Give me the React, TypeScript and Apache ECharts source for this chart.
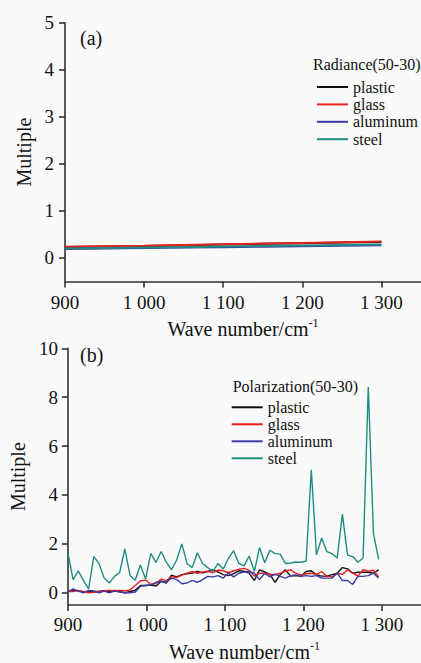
import React, { useEffect, useRef } from "react";
import * as echarts from "echarts";

// ---- data ----
const seriesNames = ["plastic", "glass", "aluminum", "steel"];
const seriesColors = ["#111111", "#e8201e", "#3a3aa8", "#1f8c84"];

// (a) Radiance(50-30)
const radianceX = [900, 950, 1000, 1050, 1100, 1150, 1200, 1250, 1300];
const radPlastic = [0.235, 0.245, 0.255, 0.27, 0.285, 0.3, 0.315, 0.33, 0.34];
const radGlass = [0.24, 0.25, 0.26, 0.275, 0.29, 0.305, 0.32, 0.335, 0.35];
const radAluminum = [0.19, 0.2, 0.21, 0.22, 0.23, 0.24, 0.25, 0.26, 0.27];
const radSteel = [0.2, 0.21, 0.22, 0.23, 0.245, 0.255, 0.265, 0.275, 0.285];

// (b) Polarization(50-30)
const waveNumbers = [
  900, 906.6, 913.2, 919.8, 926.4, 933, 939.6, 946.2, 952.8, 959.4,
  966, 972.6, 979.2, 985.8, 992.4, 999, 1005.6, 1012.2, 1018.8, 1025.4,
  1032, 1038.6, 1045.2, 1051.8, 1058.4, 1065, 1071.6, 1078.2, 1084.8, 1091.4,
  1098, 1104.6, 1111.2, 1117.8, 1124.4, 1131, 1137.6, 1144.2, 1150.8, 1157.4,
  1164, 1170.6, 1177.2, 1183.8, 1190.4, 1197, 1203.6, 1210.2, 1216.8, 1223.4,
  1230, 1236.6, 1243.2, 1249.8, 1256.4, 1263, 1269.6, 1276.2, 1282.8, 1289.4,
  1296,
];
const polPlastic = [
  0.05, 0.1, 0.08, 0.03, 0.05, 0.05, 0.06, 0.08, 0.05, 0.1,
  0.05, 0.0, 0.05, 0.1, 0.3, 0.3, 0.32, 0.27, 0.47, 0.4,
  0.72, 0.65, 0.74, 0.78, 0.81, 0.87, 0.82, 0.87, 0.94, 0.85,
  0.74, 0.7, 0.78, 0.9, 0.88, 0.8, 0.5, 0.94, 0.85, 0.75,
  0.43, 0.74, 0.94, 0.68, 0.7, 0.68, 0.87, 0.9, 0.74, 0.68,
  0.68, 0.74, 0.8, 1.03, 0.98, 0.8, 0.84, 0.84, 0.84, 0.8,
  0.94,
];
const polGlass = [
  0.05, 0.05, 0.1, 0.05, 0.0, 0.02, 0.05, 0.08, 0.1, 0.08,
  0.1, 0.08, 0.12, 0.3, 0.48, 0.52, 0.35, 0.37, 0.56, 0.5,
  0.65, 0.62, 0.72, 0.8, 0.86, 0.8, 0.85, 0.88, 0.82, 0.93,
  0.9, 0.82, 0.9, 0.96, 1.0, 0.92, 0.68, 0.8, 0.8, 0.75,
  0.75, 0.8, 0.88, 0.94, 0.8, 0.72, 0.78, 0.8, 0.75, 0.87,
  0.68, 0.65, 0.8, 0.75, 0.94, 0.8, 0.68, 0.94, 0.88, 0.92,
  0.65,
];
const polAluminum = [
  0.03, 0.16, 0.07, 0.0, 0.1, 0.07, 0.0, 0.07, 0.0, 0.07,
  0.03, 0.0, 0.0, 0.03, 0.27, 0.3, 0.32, 0.43, 0.47, 0.43,
  0.6, 0.54, 0.37, 0.4, 0.51, 0.43, 0.54, 0.67, 0.65, 0.7,
  0.6, 0.81, 0.65, 0.8, 0.85, 0.87, 0.8, 0.54, 0.8, 0.65,
  0.75, 0.67, 0.6, 0.7, 0.73, 0.67, 0.7, 0.67, 0.7, 0.6,
  0.6, 0.6, 0.8, 0.5, 0.5, 0.34, 0.67, 0.67, 0.7, 0.8,
  0.6,
];
const polSteel = [
  1.65, 0.54, 0.9, 0.5, 0.16, 1.48, 1.2, 0.6, 0.4, 0.67,
  0.83, 1.8, 0.71, 0.51, 1.14, 0.56, 1.61, 1.24, 1.69, 1.25,
  0.94, 1.34, 2.0, 1.2, 1.03, 1.64, 1.2, 1.03, 0.88, 1.2,
  0.97, 1.41, 1.72, 1.2, 1.1, 1.5, 0.87, 1.85, 1.23, 1.74,
  1.6, 1.58, 1.2, 1.22, 1.26, 1.25, 1.3, 5.03, 1.55, 2.24,
  1.68, 1.6, 1.42, 3.22, 1.54, 1.48, 1.25, 1.42, 8.42, 2.42,
  1.37,
];

const xTicks = [900, 1000, 1100, 1200, 1300];
const yTicksA = [0, 1, 2, 3, 4, 5];
const yTicksB = [0, 2, 4, 6, 8, 10];

const FONT = "'Liberation Serif', 'Times New Roman', serif";

function fmtWave(v: number) {
  const s = String(Math.round(v));
  return s.length > 3 ? s.slice(0, s.length - 3) + " " + s.slice(-3) : s;
}

export default function App() {
  const ref = useRef<HTMLDivElement>(null);
  useEffect(() => {
    if (!ref.current) return;
    const chart = echarts.init(ref.current, null, { renderer: "svg" });

    const axisLine = { show: true, onZero: false, lineStyle: { color: "#333", width: 1.6 } };
    const mkX = (gridIndex: number, margin: number) => ({
      type: "value",
      gridIndex,
      min: 900,
      max: 1350,
      splitLine: { show: false },
      axisLine,
      axisTick: { show: true, inside: false, length: 6, customValues: xTicks, lineStyle: { color: "#333", width: 1.6 } },
      axisLabel: {
        customValues: xTicks,
        formatter: (v: number) => fmtWave(v),
        fontFamily: FONT,
        fontSize: 19,
        color: "#111",
        margin,
      },
      name: "Wave number/cm{sup|-1}",
      nameLocation: "middle",
      nameGap: 35,
      nameTextStyle: {
        fontFamily: FONT,
        fontSize: 20,
        color: "#111",
        rich: { sup: { fontFamily: FONT, fontSize: 12, color: "#111", padding: [0, 0, 12, 0] } },
      },
    });
    const mkY = (gridIndex: number, max: number, ticks: number[], margin: number) => ({
      type: "value",
      gridIndex,
      min: -0.5,
      max,
      splitLine: { show: false },
      axisLine,
      axisTick: { show: true, inside: false, length: 6, customValues: ticks, lineStyle: { color: "#333", width: 1.6 } },
      axisLabel: { customValues: ticks, fontFamily: FONT, fontSize: 19, color: "#111", margin },
      name: "Multiple",
      nameLocation: "middle",
      nameGap: 30,
      nameTextStyle: { fontFamily: FONT, fontSize: 20, color: "#111" },
    });

    const radData = [radPlastic, radGlass, radAluminum, radSteel];
    const polData = [polPlastic, polGlass, polAluminum, polSteel];

    const series: any[] = [];
    seriesNames.forEach((name, i) => {
      series.push({
        type: "line",
        name,
        xAxisIndex: 0,
        yAxisIndex: 0,
        symbol: "none",
        data: radianceX.map((x, j) => [x, radData[i][j]]),
        lineStyle: { color: seriesColors[i], width: 2 },
        itemStyle: { color: seriesColors[i] },
      });
    });
    seriesNames.forEach((name, i) => {
      series.push({
        type: "line",
        name,
        xAxisIndex: 1,
        yAxisIndex: 1,
        symbol: "none",
        data: waveNumbers.map((x, j) => [x, polData[i][j]]),
        lineStyle: { color: seriesColors[i], width: 1.4 },
        itemStyle: { color: seriesColors[i] },
      });
    });

    const legendBase = {
      orient: "vertical",
      data: seriesNames,
      icon: "rect",
      itemWidth: 31,
      itemHeight: 2,
      selectedMode: false,
      textStyle: { fontFamily: FONT, fontSize: 16, color: "#111", lineHeight: 17 },
    };

    chart.setOption({
      animation: false,
      backgroundColor: "#fafafa",
      grid: [
        { left: 65, top: 22.7, width: 357, height: 258.8 },
        { left: 64.3, top: 348.3, width: 362.7, height: 261 },
      ],
      xAxis: [mkX(0, 11), mkX(1, 10)],
      yAxis: [mkY(0, 5, yTicksA, 11), mkY(1, 10, yTicksB, 10)],
      legend: [
        { ...legendBase, left: 312, top: 73.5, itemGap: 0.4 },
        { ...legendBase, left: 226.7, top: 393.8, itemGap: 0 },
      ],
      graphic: [
        { type: "text", left: 80, top: 28, style: { text: "(a)", fontFamily: FONT, fontSize: 20, fill: "#111" } },
        { type: "text", left: 80, top: 345, style: { text: "(b)", fontFamily: FONT, fontSize: 20, fill: "#111" } },
        { type: "text", left: 313, top: 56, style: { text: "Radiance(50-30)", fontFamily: FONT, fontSize: 16, fill: "#111" } },
        { type: "text", left: 232.7, top: 378.5, style: { text: "Polarization(50-30)", fontFamily: FONT, fontSize: 16, fill: "#111" } },
      ],
      series,
    });
    return () => chart.dispose();
  }, []);
  return (
    <div
      ref={ref}
      style={{ position: "fixed", left: 0, top: 0, width: 421, height: 663 }}
    />
  );
}
